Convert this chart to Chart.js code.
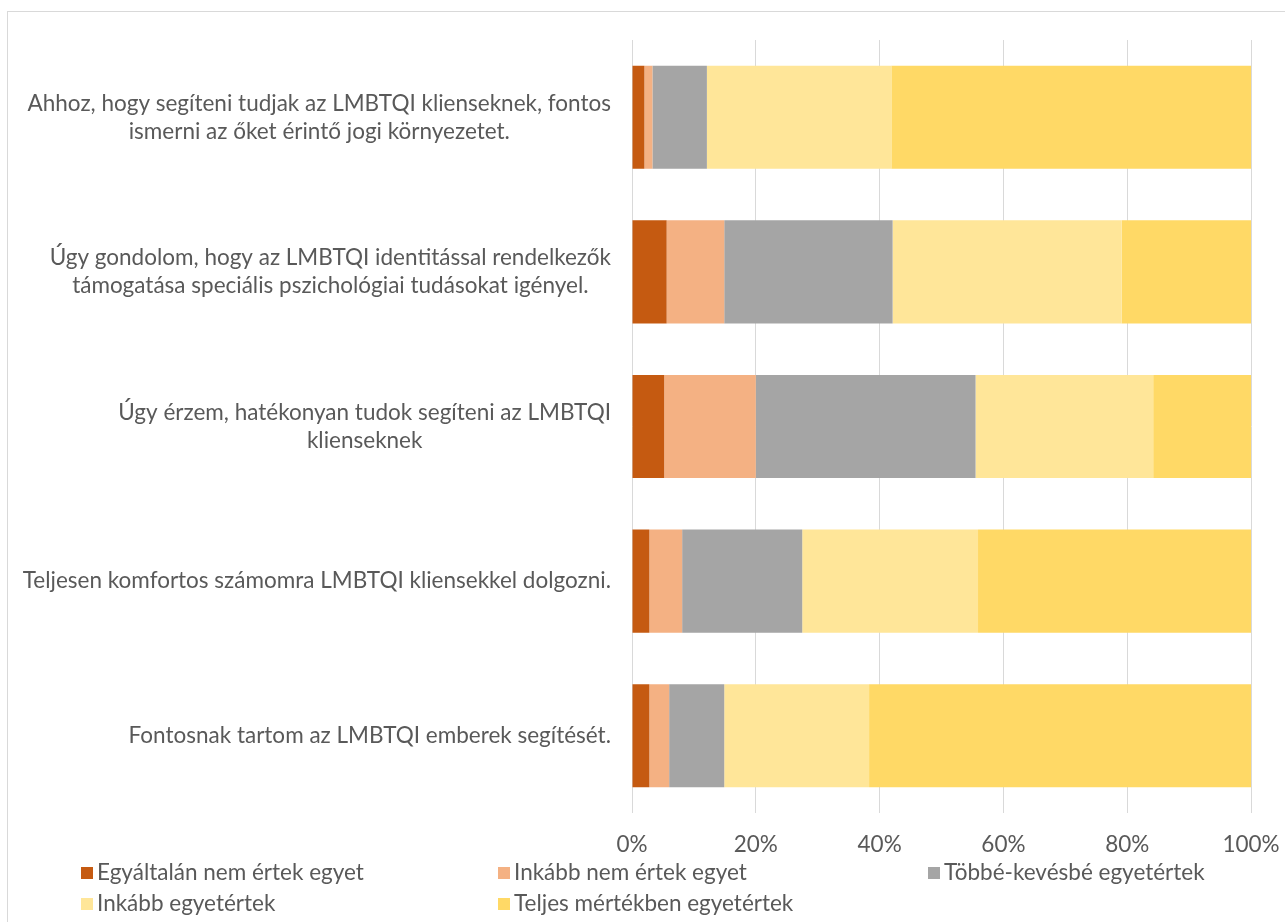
<!DOCTYPE html>
<html>
<head>
<meta charset="utf-8">
<script src="https://cdn.jsdelivr.net/npm/chart.js@4/dist/chart.umd.min.js"></script>
<style>
  html, body { margin: 0; padding: 0; background: #ffffff; }
  body { width: 1285px; height: 922px; position: relative; overflow: hidden; }
  #frame { position: absolute; left: 7px; top: 11px; width: 1300px; height: 940px; border: 1px solid #D9D9D9; box-sizing: border-box; }
  #wrap { position: absolute; left: 0; top: 0; width: 1285px; height: 922px; }
  #legend { position: absolute; left: 0; top: 0; width: 1285px; height: 922px; pointer-events: none; font-family: Lato, "Open Sans", sans-serif; font-size: 22.5px; color: #595959; }
  .li { position: absolute; height: 24px; line-height: 24px; white-space: nowrap; }
  .sw { display: inline-block; width: 12px; height: 12px; vertical-align: middle; margin-right: 4px; position: relative; top: -1px; }
</style>
</head>
<body>
<div id="frame"></div>
<div id="wrap"><canvas id="c" width="1285" height="922"></canvas></div>
<div id="legend"></div>
<script>
const categories = [
  ["Ahhoz, hogy segíteni tudjak az LMBTQI klienseknek, fontos", "ismerni az őket érintő jogi környezetet."],
  ["Úgy gondolom, hogy az LMBTQI identitással rendelkezők", "támogatása speciális pszichológiai tudásokat igényel."],
  ["Úgy érzem, hatékonyan tudok segíteni az LMBTQI", "klienseknek"],
  ["Teljesen komfortos számomra LMBTQI kliensekkel dolgozni."],
  ["Fontosnak tartom az LMBTQI emberek segítését."]
];
const seriesNames = [
  "Egyáltalán nem értek egyet",
  "Inkább nem értek egyet",
  "Többé-kevésbé egyetértek",
  "Inkább egyetértek",
  "Teljes mértékben egyetértek"
];
const egyaltalanNem = [2.0, 5.6, 5.2, 2.8, 2.8];
const inkabbNem = [1.3, 9.3, 14.8, 5.3, 3.2];
const tobbeKevesbe = [8.8, 27.2, 35.5, 19.4, 8.9];
const inkabbIgen = [29.8, 37.0, 28.7, 28.4, 23.4];
const teljesen = [58.1, 20.9, 15.8, 44.1, 61.7];
const xTicks = [0, 20, 40, 60, 80, 100];
const colors = ["#C55A11", "#F4B183", "#A5A5A5", "#FFE699", "#FFD966"];

const seriesValues = [egyaltalanNem, inkabbNem, tobbeKevesbe, inkabbIgen, teljesen];
const FONT = "Lato, 'Open Sans', sans-serif";
const FSIZE = 22.5;
const TEXT = "#595959";

const yLabelPlugin = {
  id: 'yLabels',
  afterDraw(chart) {
    const ctx = chart.ctx;
    const ys = chart.scales.y;
    const right = chart.chartArea.left - 21;
    ctx.save();
    ctx.font = FSIZE + "px " + FONT;
    ctx.fillStyle = TEXT;
    ctx.textAlign = 'center';
    ctx.textBaseline = 'middle';
    const lh = 28;
    categories.forEach((lines, i) => {
      const y = ys.getPixelForTick(i);
      const maxW = Math.max(...lines.map(l => ctx.measureText(l).width));
      const cx = right - maxW / 2;
      const y0 = y - (lines.length - 1) * lh / 2;
      lines.forEach((l, k) => ctx.fillText(l, cx, y0 + k * lh));
    });
    ctx.restore();
  }
};

new Chart(document.getElementById('c'), {
  type: 'bar',
  data: {
    labels: categories.map(c => c.join(' ')),
    datasets: seriesNames.map((n, i) => ({
      label: n,
      data: seriesValues[i],
      backgroundColor: colors[i],
      borderWidth: 0,
      barPercentage: 1,
      categoryPercentage: 0.667
    }))
  },
  options: {
    indexAxis: 'y',
    responsive: false,
    animation: false,
    layout: { padding: { left: 632, right: 34, top: 40, bottom: 49 } },
    plugins: { legend: { display: false }, tooltip: { enabled: false } },
    scales: {
      x: {
        stacked: true,
        min: 0, max: 100,
        afterBuildTicks(scale) { scale.ticks = xTicks.map(v => ({ value: v })); },
        afterFit(scale) { scale.height = 60; scale.paddingLeft = 0; scale.paddingRight = 0; },
        ticks: {
          callback: v => v + '%',
          color: TEXT,
          font: { family: FONT, size: FSIZE },
          padding: 18,
          maxRotation: 0
        },
        grid: { color: '#D9D9D9', lineWidth: 1, drawTicks: false },
        border: { display: false }
      },
      y: {
        stacked: true,
        display: false
      }
    }
  },
  plugins: [yLabelPlugin]
});

// legend (HTML, built from series arrays)
const legendPos = [[81, 860], [498, 860], [928, 860], [81, 891], [498, 891]];
const lg = document.getElementById('legend');
seriesNames.forEach((n, i) => {
  const d = document.createElement('div');
  d.className = 'li';
  d.style.left = legendPos[i][0] + 'px';
  d.style.top = legendPos[i][1] + 'px';
  const s = document.createElement('span');
  s.className = 'sw';
  s.style.background = colors[i];
  d.appendChild(s);
  d.appendChild(document.createTextNode(n));
  lg.appendChild(d);
});
</script>
</body>
</html>
